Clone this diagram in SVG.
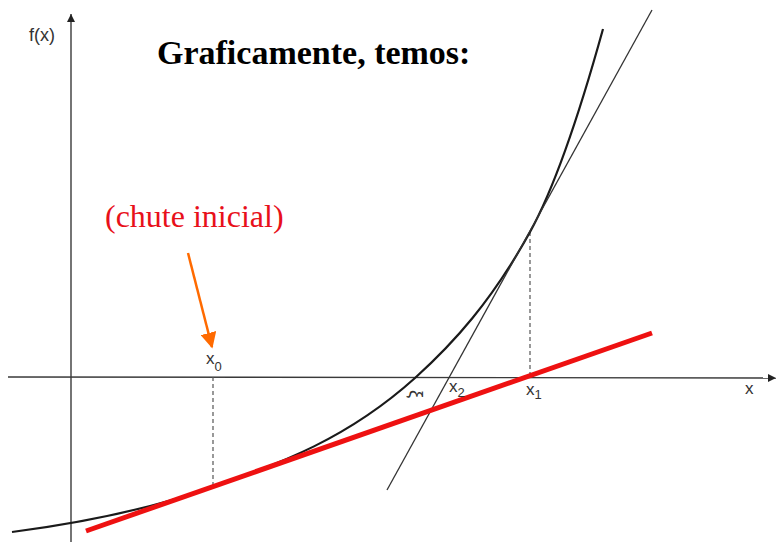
<svg xmlns="http://www.w3.org/2000/svg" width="777" height="542" viewBox="0 0 777 542">
<style>
.axis{stroke:#3a3a3a;stroke-width:1.4;fill:none}
.dash{stroke:#555;stroke-width:1.2;stroke-dasharray:4,3;fill:none}
.lbl{font-family:"Liberation Sans",Arial,sans-serif;fill:#333}
</style>
<defs>
<marker id="ah" viewBox="0 0 10 10" refX="10" refY="5" markerWidth="8" markerHeight="8" markerUnits="userSpaceOnUse" orient="auto"><path d="M0,0 L10,5 L0,10 z" fill="#222"/></marker>
<marker id="oh" viewBox="0 0 10 10" refX="9" refY="5" markerWidth="16" markerHeight="16" markerUnits="userSpaceOnUse" orient="auto"><path d="M0,0 L10,5 L0,10 z" fill="#ff6a00"/></marker>
</defs>
<rect width="777" height="542" fill="#fff"/>
<g id="axes">
<line class="axis" x1="71" y1="542" x2="71" y2="14" marker-end="url(#ah)"/>
<line class="axis" x1="8" y1="377" x2="776" y2="378" marker-end="url(#ah)"/>
</g>
<g id="connectors">
<line class="dash" x1="213" y1="377" x2="213" y2="487"/>
<line class="dash" x1="530" y1="232" x2="530" y2="377"/>
<path id="curve" d="M12,532 C79,523.3 146,510.5 213,487 C280.3,463.4 347.7,438.6 415,378 C453.3,343.5 491.7,301.3 530,232 C554.3,188 578.7,116.6 603,29" fill="none" stroke="#1a1a1a" stroke-width="2.2"/>
<line x1="387" y1="490" x2="652" y2="10" stroke="#333" stroke-width="1.3"/>
<line x1="86" y1="531" x2="652" y2="333" stroke="#ee1111" stroke-width="5"/>
<line x1="188" y1="253" x2="212" y2="347" stroke="#ff6a00" stroke-width="2.5" marker-end="url(#oh)"/>
</g>
<g id="labels">
<text class="lbl" x="29" y="41" font-size="18">f(x)</text>
<text class="lbl" x="206" y="364" font-size="17">x<tspan font-size="13" dy="7">0</tspan></text>
<text class="lbl" x="449" y="392" font-size="17">x<tspan font-size="13" dy="5">2</tspan></text>
<text class="lbl" x="526" y="395" font-size="17">x<tspan font-size="13" dy="4">1</tspan></text>
<text class="lbl" x="745" y="394" font-size="17">x</text>
<text class="lbl" x="0" y="0" font-size="18" transform="translate(410,390) rotate(90)">ξ</text>
</g>
<g id="title">
<text x="157" y="64" font-family="'Liberation Serif','Times New Roman',serif" font-weight="bold" font-size="34" fill="#000">Graficamente, temos:</text>
</g>
<g id="note">
<text x="105" y="227" font-family="'Liberation Serif','Times New Roman',serif" font-size="32" fill="#e8101a">(chute inicial)</text>
</g>
</svg>
